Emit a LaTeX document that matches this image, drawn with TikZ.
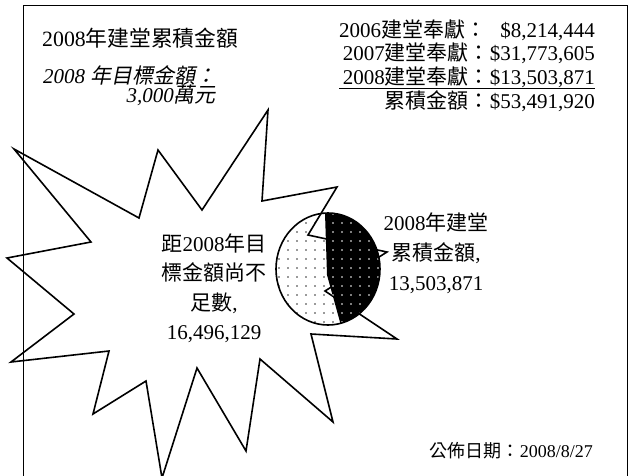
\documentclass[tikz,border=0pt]{standalone}
\usepackage{fontspec}
\setmainfont{Liberation Serif}
\newfontfamily\cjk{Noto Sans CJK TC}
\newfontfamily\cjkit{Noto Sans CJK TC}[FakeSlant=0.2]
\usetikzlibrary{patterns}
\pgfdeclarepatternformonly{sparsedots}{\pgfqpoint{-1pt}{-1pt}}{\pgfqpoint{1pt}{1pt}}{\pgfqpoint{9pt}{9pt}}{\pgfpathcircle{\pgfqpoint{0pt}{0pt}}{0.8pt}\pgfusepath{fill}}
\def\burstpath{(268,110) -- (262,201) -- (337,187) -- (308,235) -- (387,252) -- (325,291) -- (397,339) -- (311,334) -- (333,422) -- (260,359) -- (246,451) -- (197,368) -- (162,478) -- (146,381) -- (93,414) -- (109,351) -- (11,362) -- (74,314) -- (7,258) -- (91,242) -- (14,149) -- (139,218) -- (158,150) -- (202,210) -- cycle}
\def\piepath{(328,269) ellipse [x radius=52, y radius=56]}
\def\blackpath{(325,195) -- (325,213) -- (327,275) -- (340,322) -- (344,336) -- (405,336) -- (405,195) -- cycle}
\begin{document}
\begin{tikzpicture}[x=1pt,y=-1pt,
  txt/.style={inner sep=0pt,font=\fontsize{21}{25}\selectfont},
  big/.style={inner sep=0pt,font=\fontsize{21.8}{26}\selectfont},
  small/.style={inner sep=0pt,font=\fontsize{18}{21}\selectfont},
  frameline/.style={line width=1pt},
  burst/.style={line width=1.6pt,line join=miter},
  pieline/.style={line width=1.6pt}]
\useasboundingbox (0,0) rectangle (630,475);
\clip (0,0) rectangle (630,475);
% frame
\draw[frameline] (23,5) rectangle (627,490);
% starburst
\draw[burst] \burstpath;
% pie
\fill[white] \piepath;
\begin{scope}
  \clip \piepath;
  \clip \burstpath;
  \fill[pattern=sparsedots,pattern color=black!80] (270,205) rectangle (385,330);
\end{scope}
\begin{scope}
  \clip \piepath;
  \draw[burst] \burstpath;
  \fill[black] \blackpath;
  \fill[pattern=sparsedots,pattern color=white] \blackpath;
\end{scope}
\draw[pieline] \piepath;
% title texts
\node[big,anchor=base west] (title) at (42,46) {2008{\cjk 年建堂累積金額}};
\node[txt,anchor=base west] (goal) at (43,83) {\itshape 2008 {\cjkit 年目標金額：}};
\node[txt,anchor=base east] (goalv) at (216,102) {\itshape 3,000{\cjkit 萬元}};
% right block
\node[txt,anchor=base west] (y6) at (339,37) {2006{\cjk 建堂奉獻：}};
\node[txt,anchor=base east] (v6) at (595,37) {\$8,214,444};
\node[txt,anchor=base east] (y7) at (595,60) {2007{\cjk 建堂奉獻：}\$31,773,605};
\node[txt,anchor=base east] (y8) at (595,84) {2008{\cjk 建堂奉獻：}\$13,503,871};
\draw[line width=1.6pt] (339,88.5) -- (595,88.5);
\node[txt,anchor=base east] (tot) at (595,108) {{\cjk 累積金額：}\$53,491,920};
% pie label
\node[txt,anchor=base] (pl1) at (436,230) {2008{\cjk 年建堂}};
\node[txt,anchor=base] (pl2) at (436,260) {{\cjk 累積金額},};
\node[txt,anchor=base] (pl3) at (436,290) {13,503,871};
% starburst label
\node[txt,anchor=base] (bl1) at (214,251) {{\cjk 距}2008{\cjk 年目}};
\node[txt,anchor=base] (bl2) at (214,280) {{\cjk 標金額尚不}};
\node[txt,anchor=base] (bl3) at (214,310) {{\cjk 足數},};
\node[txt,anchor=base] (bl4) at (214,339) {16,496,129};
% date
\node[small,anchor=base east] (date) at (593,457) {{\cjk 公佈日期：}2008/8/27};
\end{tikzpicture}
\end{document}
